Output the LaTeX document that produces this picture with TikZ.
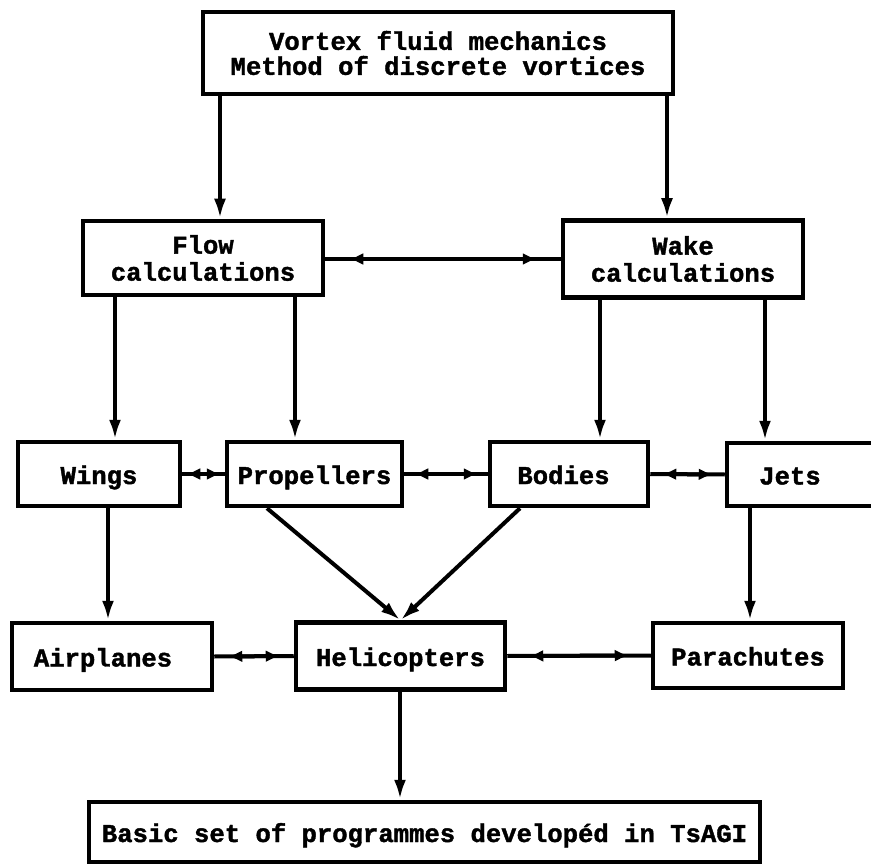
\documentclass[tikz,border=0pt]{standalone}
\usepackage{fontspec}
\setmainfont{Liberation Mono}[BoldFeatures={FakeBold=1.5}]
\usetikzlibrary{arrows.meta}
\begin{document}
\begin{tikzpicture}[x=1pt,y=-1pt,
  box/.style={draw, line width=4.5pt, rectangle, inner sep=0pt, align=center,
    font=\bfseries\fontsize{25.6}{27}\selectfont},
  one/.style={text height=22pt, text depth=2pt},
  arr/.style={line width=4pt, -{Latex[length=20pt,width=12pt]}},
  dbl/.style={line width=4pt, postaction={draw,
      {Latex[length=14pt,width=12pt]}-{Latex[length=14pt,width=12pt]},
      shorten <=#1, shorten >=#1}}]
\useasboundingbox (0,0) rectangle (871,864);
\clip (0,0) rectangle (871,864);

% boxes
\node[box, minimum width=470, minimum height=82,
  font=\bfseries\fontsize{25.6}{25}\selectfont] (top) at (438,53)
  {Vortex fluid mechanics\\Method of discrete vortices};
\node[box, minimum width=240, minimum height=74] (flow) at (203,258) {Flow\\calculations};
\node[box, minimum width=240, minimum height=77] (wake) at (683,259) {Wake\\calculations};
\node[box, one, minimum width=162, minimum height=64] (wings) at (99,474) {Wings};
\node[box, one, minimum width=175, minimum height=64] (prop) at (314.5,474) {Propellers};
\node[box, one, minimum width=158, minimum height=64] (bodies) at (569,474) {\hspace*{-11pt}Bodies};
\node[box, one, minimum width=173, minimum height=63] (jets) at (813.5,474.5) {\hspace*{-47pt}Jets};
\node[box, one, minimum width=200, minimum height=67] (air) at (112,656.5) {\hspace*{-18pt}Airplanes};
\node[box, one, minimum width=209, minimum height=67] (heli) at (400.5,656) {Helicopters};
\node[box, one, minimum width=190, minimum height=65] (para) at (748,655.5) {Parachutes};
\node[box, one, minimum width=671, minimum height=60] (basic) at (424.5,832)
  {Basic set of programmes developéd in TsAGI};

% x positions of vertical connectors
\coordinate (xa) at (220,0);
\coordinate (xb) at (667,0);
\coordinate (xc) at (115,0);
\coordinate (xd) at (295,0);
\coordinate (xe) at (600,0);
\coordinate (xf) at (765,0);
\coordinate (xg) at (108,0);
\coordinate (xh) at (750,0);
\coordinate (xi) at (400,0);
\coordinate (xp) at (267,0);
\coordinate (xq) at (520,0);

% vertical arrows
\draw[arr] (xa |- top.south) -- (xa |- flow.north);
\draw[arr] (xb |- top.south) -- (xb |- wake.north);
\draw[arr] (xc |- flow.south) -- (xc |- wings.north);
\draw[arr] (xd |- flow.south) -- (xd |- prop.north);
\draw[arr] (xe |- wake.south) -- (xe |- bodies.north);
\draw[arr] (xf |- wake.south) -- (xf |- jets.north);
\draw[arr] (xg |- wings.south) -- (xg |- air.north);
\draw[arr] (xh |- jets.south) -- (xh |- para.north);
\draw[arr] (xi |- heli.south) -- (xi |- basic.north);

% diagonal arrows
\draw[arr] (xp |- prop.south) -- (heli.north);
\draw[arr] (xq |- bodies.south) -- (heli.north);

% horizontal double arrows
\draw[dbl=24pt] (flow.east |- 0,259) -- (wake.west |- 0,259);
\draw[dbl=4pt] (wings.east) -- (prop.west);
\draw[dbl=10pt] (prop.east) -- (bodies.west);
\draw[dbl=12pt] (bodies.east) -- (jets.west);
\draw[dbl=14pt] (air.east) -- (heli.west);
\draw[dbl=22pt] (heli.east) -- (para.west);
\end{tikzpicture}
\end{document}
